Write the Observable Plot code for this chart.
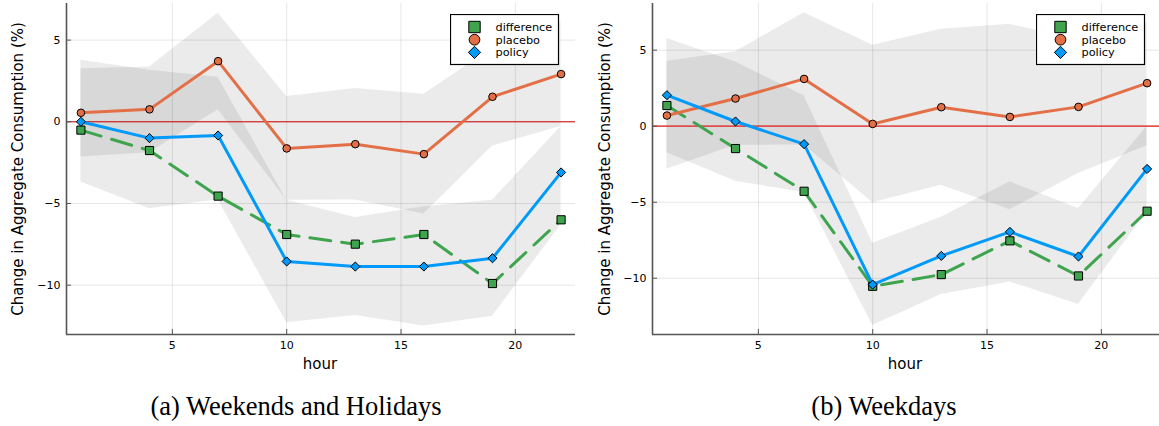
<!DOCTYPE html>
<html><head><meta charset="utf-8">
<script src="https://cdn.jsdelivr.net/npm/d3@7"></script>
<script src="https://cdn.jsdelivr.net/npm/@observablehq/plot@0.6"></script>
<style>
html,body{margin:0;padding:0;background:#fff;overflow:hidden;width:1159px;height:426px;}
#root{position:relative;width:1159px;height:426px;overflow:hidden;font-family:"DejaVu Sans",sans-serif;color:#000;}
.panel{position:absolute;top:0;}
.ylab{position:absolute;font-size:15px;white-space:nowrap;transform:translate(-50%,-50%) rotate(-90deg);line-height:15px;}
.xlab{position:absolute;font-size:15px;white-space:nowrap;transform:translate(-50%,-50%);line-height:15px;}
.cap{position:absolute;top:393px;font-family:"Liberation Serif","Times New Roman",serif;font-size:26.5px;line-height:26px;white-space:nowrap;transform:translate(-50%,0);}
.legend{position:absolute;top:14px;}
</style>
</head><body><div id="root"></div>
<script>
// ---- data ----
const hours = [1, 4, 7, 10, 13, 16, 19, 22];
const seriesNames = ["difference", "placebo", "policy"];
const xTicks = [5, 10, 15, 20];
const yTicks = [-10, -5, 0, 5];

// (a) Weekends and Holidays
const differenceA = [-0.51, -1.76, -4.55, -6.90, -7.49, -6.90, -9.90, -6.00];
const placeboA    = [0.55, 0.76, 3.71, -1.63, -1.37, -1.98, 1.53, 2.92];
const policyA     = [0.00, -1.00, -0.84, -8.55, -8.86, -8.86, -8.35, -3.10];
const placeboLoA  = [-2.16, -1.90, 0.73, -4.81, -4.78, -5.65, -1.49, -0.29];
const placeboHiA  = [3.24, 3.35, 6.65, 1.55, 2.04, 1.69, 4.50, 6.13];
const policyLoA   = [-3.69, -5.33, -4.78, -12.30, -11.86, -12.50, -11.90, -6.30];
const policyHiA   = [3.76, 3.15, 2.73, -4.80, -5.86, -5.20, -4.80, -0.29];

// (b) Weekdays
const differenceB = [1.36, -1.47, -4.28, -10.53, -9.76, -7.54, -9.85, -5.59];
const placeboB    = [0.70, 1.82, 3.11, 0.15, 1.25, 0.61, 1.27, 2.83];
const policyB     = [2.04, 0.31, -1.18, -10.42, -8.53, -6.95, -8.57, -2.81];
const placeboLoB  = [-2.83, -1.25, -1.24, -5.03, -3.88, -5.50, -3.11, -1.29];
const placeboHiB  = [4.28, 4.89, 7.46, 5.33, 6.38, 6.71, 5.65, 6.80];
const policyLoB   = [-1.75, -3.62, -4.36, -13.10, -11.07, -10.24, -11.73, -5.62];
const policyHiB   = [5.77, 4.23, 2.00, -7.70, -5.99, -3.66, -5.41, 0.00];

const captions = ["(a) Weekends and Holidays", "(b) Weekdays"];
const yLabel = "Change in Aggregate Consumption (%)";
const xLabel = "hour";

const colors = {difference: "#3EA44E", placebo: "#E36F47", policy: "#009AFA"};
const symbols = {difference: "square", placebo: "circle", policy: "diamond2"};
const radii = {difference: 4.6, placebo: 3.8, policy: 4.1};
const xDomain = [0.37, 22.63];

function makePanel(cfg) {
  const rows = hours.map((h, i) => ({
    hour: h,
    difference: cfg.difference[i], placebo: cfg.placebo[i], policy: cfg.policy[i],
    plLo: cfg.placeboLo[i], plHi: cfg.placeboHi[i], poLo: cfg.policyLo[i], poHi: cfg.policyHi[i]
  }));
  const seriesMarks = [];
  for (const s of seriesNames) {
    seriesMarks.push(Plot.lineY(rows, {x: "hour", y: s, stroke: colors[s], strokeWidth: 3,
      strokeDasharray: s === "difference" ? "21,11" : null}));
    seriesMarks.push(Plot.dot(rows, {x: "hour", y: s, symbol: symbols[s], r: radii[s],
      fill: colors[s], stroke: "#000", strokeWidth: 1}));
  }
  return Plot.plot({
    width: cfg.width, height: 380,
    marginLeft: cfg.marginLeft, marginRight: cfg.marginRight, marginTop: 3, marginBottom: 46,
    x: {domain: xDomain, label: null},
    y: {domain: cfg.yDomain, label: null},
    style: {fontFamily: "DejaVu Sans, sans-serif", fontSize: "11px", color: "#000", background: "transparent", overflow: "visible"},
    marks: [
      Plot.gridX(xTicks, {stroke: "#000", strokeOpacity: 0.1, strokeWidth: 1}),
      Plot.gridY(yTicks, {stroke: "#000", strokeOpacity: 0.1, strokeWidth: 1}),
      Plot.areaY(rows, {x: "hour", y1: "plLo", y2: "plHi", fill: "#000", fillOpacity: 0.08}),
      Plot.areaY(rows, {x: "hour", y1: "poLo", y2: "poHi", fill: "#000", fillOpacity: 0.08}),
      Plot.ruleY([0], {stroke: cfg.zeroStroke, strokeWidth: cfg.zeroWidth, strokeOpacity: cfg.zeroOpacity}),
      ...seriesMarks,
      Plot.ruleX([xDomain[0]], {stroke: "#555", strokeWidth: 1.6}),
      Plot.ruleY([cfg.yDomain[0]], {stroke: "#555", strokeWidth: 1.6}),
      Plot.axisX({ticks: xTicks, tickSize: 0, tickPadding: 7, fontSize: 11, label: null}),
      Plot.axisX({ticks: xTicks, tickSize: -5, tickFormat: () => "", stroke: "#555", label: null}),
      Plot.axisY({ticks: yTicks, tickSize: 0, tickPadding: 6, fontSize: 11, label: null}),
      Plot.axisY({ticks: yTicks, tickSize: -5, tickFormat: () => "", stroke: "#555", label: null})
    ]
  });
}

function legendSvg() {
  const ns = "http://www.w3.org/2000/svg";
  const svg = document.createElementNS(ns, "svg");
  svg.setAttribute("width", 110); svg.setAttribute("height", 52);
  const rect = document.createElementNS(ns, "rect");
  rect.setAttribute("x", 0.5); rect.setAttribute("y", 0.5); rect.setAttribute("width", 108); rect.setAttribute("height", 50);
  rect.setAttribute("fill", "#fff"); rect.setAttribute("stroke", "#000"); rect.setAttribute("stroke-width", 1.2);
  svg.appendChild(rect);
  const sym = {square: d3.symbolSquare, circle: d3.symbolCircle, diamond2: d3.symbolDiamond2};
  const sizes = {difference: 130, placebo: 90, policy: 95};
  seriesNames.forEach((s, i) => {
    const cy = 13 + i * 12.7;
    const p = document.createElementNS(ns, "path");
    p.setAttribute("d", d3.symbol(sym[symbols[s]], sizes[s])());
    p.setAttribute("transform", `translate(24.5,${cy})`);
    p.setAttribute("fill", colors[s]); p.setAttribute("stroke", "#000"); p.setAttribute("stroke-width", 1);
    svg.appendChild(p);
    const t = document.createElementNS(ns, "text");
    t.setAttribute("x", 45.5); t.setAttribute("y", cy + 4);
    t.setAttribute("font-family", "DejaVu Sans, sans-serif"); t.setAttribute("font-size", 11.3);
    t.textContent = s;
    svg.appendChild(t);
  });
  return svg;
}

const root = document.getElementById("root");
const panels = [
  {left: 0, width: 580, marginLeft: 66, marginRight: 5, yDomain: [-13.02, 7.24],
   difference: differenceA, placebo: placeboA, policy: policyA,
   placeboLo: placeboLoA, placeboHi: placeboHiA, policyLo: policyLoA, policyHi: policyHiA,
   zeroStroke: "#d00000", zeroWidth: 1, zeroOpacity: 1,
   ylabX: 18, xlabX: 320, legendX: 450, capX: 296},
  {left: 580, width: 581, marginLeft: 72, marginRight: 0, yDomain: [-13.7, 8.07],
   difference: differenceB, placebo: placeboB, policy: policyB,
   placeboLo: placeboLoB, placeboHi: placeboHiB, policyLo: policyLoB, policyHi: policyHiB,
   zeroStroke: "#e03a3a", zeroWidth: 1.8, zeroOpacity: 0.85,
   ylabX: 605, xlabX: 905, legendX: 1036, capX: 884}
];
panels.forEach((cfg, i) => {
  const chart = makePanel(cfg);
  chart.classList.add("panel");
  chart.style.left = cfg.left + "px";
  root.appendChild(chart);
  const yl = document.createElement("div"); yl.className = "ylab"; yl.textContent = yLabel;
  yl.style.left = cfg.ylabX + "px"; yl.style.top = "168.5px"; root.appendChild(yl);
  const xl = document.createElement("div"); xl.className = "xlab"; xl.textContent = xLabel;
  xl.style.left = cfg.xlabX + "px"; xl.style.top = "364px"; root.appendChild(xl);
  const lg = document.createElement("div"); lg.className = "legend"; lg.style.left = cfg.legendX + "px";
  lg.appendChild(legendSvg()); root.appendChild(lg);
  const cp = document.createElement("div"); cp.className = "cap"; cp.textContent = captions[i];
  cp.style.left = cfg.capX + "px"; root.appendChild(cp);
});
</script>
</body></html>
